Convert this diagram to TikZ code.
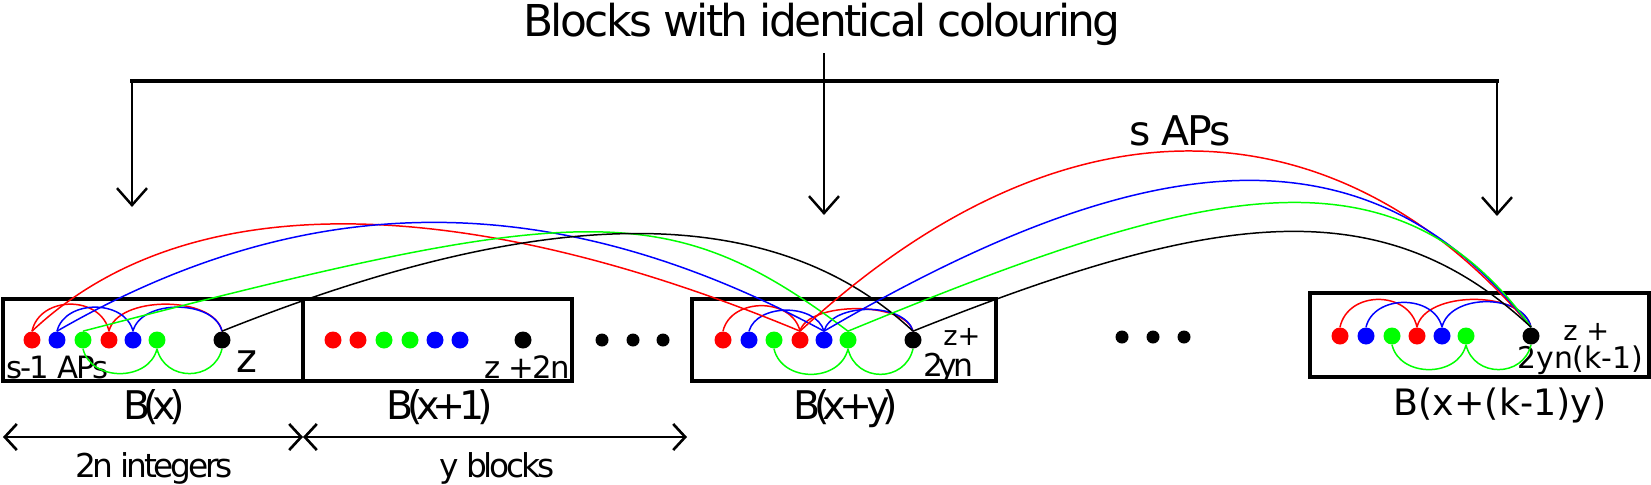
\documentclass[tikz,border=0pt]{standalone}
\usepackage{fontspec}
\setmainfont{DejaVu Sans}
\usetikzlibrary{arrows.meta}

\begin{document}
\begin{tikzpicture}[x=0.02cm,y=-0.02cm,
        vertex/.style={circle,fill=#1,minimum size=0.34cm,inner sep=0pt},
        more/.style={circle,fill=black,minimum size=0.26cm,inner sep=0pt},
        block/.style={draw,line width=1.9pt,inner sep=0pt,minimum height=1.64cm},
        txt/.style={inner sep=0pt,anchor=base},
        blocklabel/.style={txt,font={\fontsize{22.5}{27}\selectfont\addfontfeatures{LetterSpace=-17}}},
        countlabel/.style={txt,font={\fontsize{18.7}{22}\selectfont\addfontfeatures{LetterSpace=-10}}},
        ap/.style={line width=0.85pt},
        pointer/.style={line width=1.4pt,-{Straight Barb[length=0.34cm,width=0.6cm]}},
        measure/.style={line width=1.5pt,{Straight Barb[length=0.24cm,width=0.52cm]}-{Straight Barb[length=0.24cm,width=0.52cm]}}]
    \useasboundingbox (0,0) rectangle (1651,484);

    % Title and arrows
    \node[txt,font={\fontsize{25}{30}\selectfont\addfontfeatures{LetterSpace=-6}}] (title) at (822,36) {Blocks with identical colouring};
    \coordinate (stem) at (824,53);
    \coordinate (hub) at (824,81);
    \coordinate (hubl) at (132,81);
    \coordinate (hubr) at (1497,81);
    \coordinate (tipl) at (132,207);
    \coordinate (tipm) at (824,215);
    \coordinate (tipr) at (1497,216);
    \draw[line width=1.4pt] (stem) -- (hub);
    \draw[line width=2.4pt,line cap=rect] (hubl) -- (hubr);
    \draw[pointer] (hubl) -- (tipl);
    \draw[pointer] (hub) -- (tipm);
    \draw[pointer] (hubr) -- (tipr);

    % Block B(x)
    \node[block,minimum width=6cm] (bx) at (153,340) {};
    \node[vertex=red]   (a1) at (32,340) {};
    \node[vertex=blue]  (a2) at (57,340) {};
    \node[vertex=green] (a3) at (83,340) {};
    \node[vertex=red]   (a4) at (109,340) {};
    \node[vertex=blue]  (a5) at (133,340) {};
    \node[vertex=green] (a6) at (157,340) {};
    \node[vertex=black] (az) at (222,340) {};
    \node[txt,anchor=base west,font={\fontsize{17.5}{21}\selectfont\addfontfeatures{LetterSpace=-6}}] (aps) at (6,378) {s-1 APs};
    \node[txt,anchor=base west,font={\fontsize{22.6}{27}\selectfont}] (azl) at (236,372) {z};

    % Block B(x+1)
    \node[block,minimum width=5.38cm] (bx1) at (437.5,340) {};
    \node[vertex=red]   (b1) at (333,340) {};
    \node[vertex=red]   (b2) at (358,340) {};
    \node[vertex=green] (b3) at (384,340) {};
    \node[vertex=green] (b4) at (410,340) {};
    \node[vertex=blue]  (b5) at (435,340) {};
    \node[vertex=blue]  (b6) at (460,340) {};
    \node[vertex=black] (bz) at (523,340) {};
    \node[txt,anchor=base east,font={\fontsize{17.5}{21}\selectfont\addfontfeatures{LetterSpace=-6}}] (bzl) at (570,378) {z +2n};

    % Dots between the blocks
    \node[more] (m1) at (602,340) {};
    \node[more] (m2) at (633,340) {};
    \node[more] (m3) at (663,340) {};
    \node[more] (n1) at (1122,337) {};
    \node[more] (n2) at (1153,337) {};
    \node[more] (n3) at (1184,337) {};

    % Block B(x+y)
    \node[block,minimum width=6.08cm] (bxy) at (844,340) {};
    \node[vertex=red]   (c1) at (723,340) {};
    \node[vertex=blue]  (c2) at (749,340) {};
    \node[vertex=green] (c3) at (774,340) {};
    \node[vertex=red]   (c4) at (800,340) {};
    \node[vertex=blue]  (c5) at (824,340) {};
    \node[vertex=green] (c6) at (848,340) {};
    \node[vertex=black] (cz) at (913,340) {};
    \node[txt,anchor=base west,font={\fontsize{15.5}{19}\selectfont}] (czl) at (943,345) {z+};
    \node[txt,anchor=base west,font={\fontsize{17.9}{21}\selectfont\addfontfeatures{LetterSpace=-14}}] (czm) at (923,376) {2yn};

    % Block B(x+(k-1)y)
    \node[block,minimum width=6.78cm,minimum height=1.68cm] (bxk) at (1479.5,335) {};
    \node[vertex=red]   (d1) at (1340,336) {};
    \node[vertex=blue]  (d2) at (1366,336) {};
    \node[vertex=green] (d3) at (1392,336) {};
    \node[vertex=red]   (d4) at (1417,336) {};
    \node[vertex=blue]  (d5) at (1442,336) {};
    \node[vertex=green] (d6) at (1466,336) {};
    \node[vertex=black] (dz) at (1531,336) {};
    \node[txt,anchor=base west,font={\fontsize{15.5}{19}\selectfont}] (dzl) at (1563,340) {z +};
    \node[txt,anchor=base west,font={\fontsize{17}{20}\selectfont}] (dzm) at (1517,368) {2yn(k-1)};

    % Block names
    \node[blocklabel] (lx) at (154,419) {B(x)};
    \node[blocklabel] (lx1) at (440,419) {B(x+1)};
    \node[blocklabel] (lxy) at (846,419) {B(x+y)};
    \node[txt,font={\fontsize{20.7}{25}\selectfont}] (lxk) at (1500,415) {B(x+(k-1)y)};

    % Lengths
    \coordinate (s0) at (3,437);
    \coordinate (s1) at (303,437);
    \coordinate (s2) at (687,437);
    \draw[measure] (s0) -- (s1);
    \draw[measure] (s1) -- (s2);
    \node[countlabel] (ln) at (154,477) {2n integers};
    \node[countlabel] (ly) at (497,477) {y blocks};
    \node[txt,font={\fontsize{23.3}{28}\selectfont\addfontfeatures{LetterSpace=-5}}] (saps) at (1180,145) {s APs};

    % Short APs
    \draw[ap,red]   (a1.north) .. controls +(8,-36) and +(-8,-36) .. (a4.north);
    \draw[ap,red]   (a4.north) .. controls +(8,-36) and +(-8,-36) .. (az.north);
    \draw[ap,blue]  (a2.north) .. controls +(8,-32) and +(-8,-32) .. (a5.north);
    \draw[ap,blue]  (a5.north) .. controls +(8,-32) and +(-8,-32) .. (az.north);
    \draw[ap,green] (a3.south) .. controls +(8,33) and +(-8,33) .. (a6.south);
    \draw[ap,green] (a6.south) .. controls +(8,33) and +(-8,33) .. (az.south);
    \draw[ap,red]   (c1.north) .. controls +(8,-34) and +(-8,-34) .. (c4.north);
    \draw[ap,red]   (c4.north) .. controls +(8,-30) and +(-8,-30) .. (cz.north);
    \draw[ap,blue]  (c2.north) .. controls +(8,-28) and +(-8,-28) .. (c5.north);
    \draw[ap,blue]  (c5.north) .. controls +(8,-29) and +(-8,-29) .. (cz.north);
    \draw[ap,green] (c3.south) .. controls +(8,34) and +(-8,34) .. (c6.south);
    \draw[ap,green] (c6.south) .. controls +(8,34) and +(-8,34) .. (cz.south);
    \draw[ap,red]   (d1.north) .. controls +(8,-37) and +(-8,-37) .. (d4.north);
    \draw[ap,red]   (d4.north) .. controls +(8,-37) and +(-8,-37) .. (dz.north);
    \draw[ap,blue]  (d2.north) .. controls +(8,-33) and +(-8,-33) .. (d5.north);
    \draw[ap,blue]  (d5.north) .. controls +(8,-34) and +(-8,-34) .. (dz.north);
    \draw[ap,green] (d3.south) .. controls +(8,33) and +(-8,33) .. (d6.south);
    \draw[ap,green] (d6.south) .. controls +(8,33) and +(-8,33) .. (dz.south);

    % Long APs
    \draw[ap,red]   (a1.north) .. controls +(170,-160) and +(-300,-125) .. (c4.north);
    \draw[ap,blue]  (a2.north) .. controls +(260,-150) and +(-260,-140) .. (c5.north);
    \draw[ap,green] (a3.north) .. controls +(500,-130) and +(-180,-135) .. (c6.north);
    \draw[ap,black] (az.north) .. controls +(300,-120) and +(-150,-140) .. (cz.north);
    \draw[ap,red]   (c4.north) .. controls +(270,-250) and +(-190,-225) .. (dz.north);
    \draw[ap,blue]  (c5.north) .. controls +(300,-175) and +(-170,-220) .. (dz.north);
    \draw[ap,green] (c6.north) .. controls +(340,-140) and +(-140,-195) .. (dz.north);
    \draw[ap,black] (cz.north) .. controls +(300,-120) and +(-150,-140) .. (dz.north);
\end{tikzpicture}
\end{document}
